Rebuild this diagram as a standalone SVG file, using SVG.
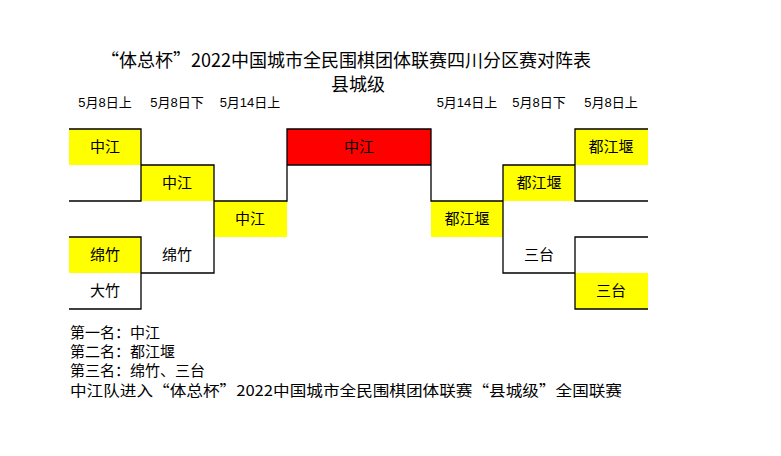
<svg xmlns="http://www.w3.org/2000/svg" width="781" height="456" viewBox="0 0 781 456">
<style>
text{font-family:"Noto Sans CJK SC","Liberation Sans",sans-serif;fill:#000}
.t{font-size:18px;text-anchor:middle}
.d{font-size:13px;text-anchor:middle;font-family:"Liberation Sans","Noto Sans CJK SC",sans-serif}
.n{font-size:15px;text-anchor:middle}
.f{font-size:15px}
.y{fill:#ffff00}
path{fill:none;stroke:#000;stroke-width:1.3}
</style>
<rect width="781" height="456" fill="#fff"/>
<text class="t" x="346" y="67">“体总杯”2022中国城市全民围棋团体联赛四川分区赛对阵表</text>
<text class="t" x="358" y="91">县城级</text>
<g>
<text class="d" x="105" y="107">5月8日上</text>
<text class="d" x="177" y="107">5月8日下</text>
<text class="d" x="250" y="107">5月14日上</text>
<text class="d" x="467" y="107">5月14日上</text>
<text class="d" x="539" y="107">5月8日下</text>
<text class="d" x="611" y="107">5月8日上</text>
</g>
<g id="n1"><rect class="y" x="69" y="129" width="72" height="36"/><text class="n" x="105" y="152">中江</text></g>
<g id="n2"><rect class="y" x="69" y="237" width="72" height="36"/><text class="n" x="105" y="260">绵竹</text></g>
<g id="n3"><text class="n" x="105" y="296">大竹</text></g>
<g id="n4"><rect class="y" x="141" y="165" width="73" height="36"/><text class="n" x="177" y="188">中江</text></g>
<g id="n5"><text class="n" x="177" y="260">绵竹</text></g>
<g id="n6"><rect class="y" x="214" y="201" width="73" height="36"/><text class="n" x="250" y="224">中江</text></g>
<g id="n7"><rect fill="#ff0000" x="287" y="129" width="144" height="36"/><text class="n" x="359" y="152">中江</text></g>
<g id="n8"><rect class="y" x="431" y="201" width="72" height="36"/><text class="n" x="467" y="224">都江堰</text></g>
<g id="n9"><rect class="y" x="503" y="165" width="72" height="36"/><text class="n" x="539" y="188">都江堰</text></g>
<g id="n10"><text class="n" x="539" y="260">三台</text></g>
<g id="n11"><rect class="y" x="575" y="129" width="73" height="36"/><text class="n" x="611" y="152">都江堰</text></g>
<g id="n12"><rect class="y" x="575" y="273" width="73" height="36"/><text class="n" x="611" y="296">三台</text></g>
<g id="connectors">
<path d="M69 129H141V201H69M69 237H141V309H69"/>
<path d="M141 165H214V273H141"/>
<path d="M214 201H287V129H431V201H503"/>
<path d="M287 165H431"/>
<path d="M575 165H503V273H575"/>
<path d="M648 129H575V201H648M648 237H575V309H648"/>
</g>
<text class="f" x="70" y="338">第一名：中江</text>
<text class="f" x="70" y="357">第二名：都江堰</text>
<text class="f" x="70" y="376">第三名：绵竹、三台</text>
<text class="f" x="70" y="396" textLength="552" lengthAdjust="spacingAndGlyphs">中江队进入“体总杯”2022中国城市全民围棋团体联赛“县城级”全国联赛</text>
</svg>
